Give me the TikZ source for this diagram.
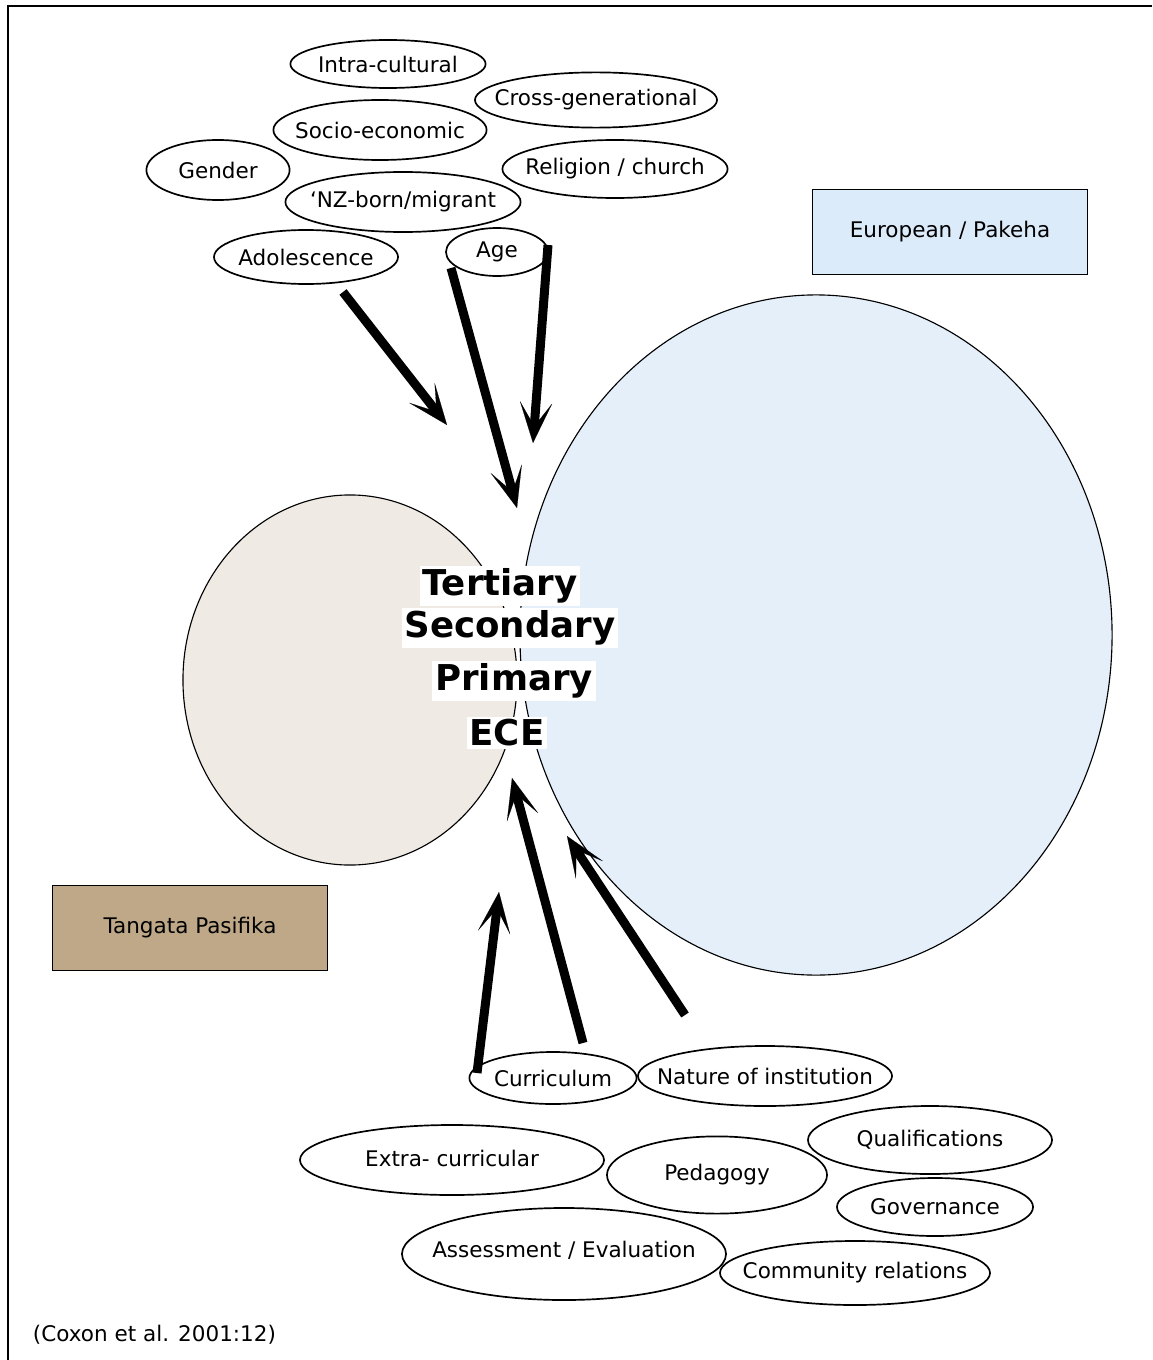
\documentclass[tikz,border=0pt]{standalone}
\usepackage{fontspec}
\setmainfont{DejaVu Sans}
\usetikzlibrary{positioning,arrows.meta,shapes.geometric}

\definecolor{paleblue}{HTML}{E4EFFA}
\definecolor{boxblue}{HTML}{DCEBFA}
\definecolor{paletan}{HTML}{EFEAE3}
\definecolor{boxtan}{HTML}{BEA887}

% label of no width, so the ellipse keeps its set size
\newcommand{\bub}[1]{\makebox[0pt]{#1}}

\tikzset{
    bubble/.style={ellipse, draw, line width=1.2pt, fill=white, inner sep=0pt,
        font=\fontsize{15.3}{18}\selectfont},
    groupbox/.style={rectangle, draw, very thick, inner sep=0pt,
        minimum width=6.875cm, minimum height=2.125cm,
        font=\fontsize{15.3}{18}\selectfont},
    level/.style={fill=white, inner sep=2pt,
        font=\fontsize{25.3}{30}\selectfont\bfseries},
    push/.style={line width=6.4pt,
        -{Stealth[length=29pt, width=23pt, inset=17pt, line width=0.1pt]}}
}

\begin{document}
\begin{tikzpicture}[x=0.025cm, y=-0.025cm]
    \useasboundingbox (0,0) rectangle (1152,1360);
    \draw[line width=2pt] (8,1360) -- (8,6) -- (1152,6);

    % the two cultures
    \node[ellipse, draw, line width=0.8pt, fill=paletan, minimum width=8.35cm, minimum height=9.25cm] (pasifika) at (350,680) {};
    \node[ellipse, draw, line width=0.8pt, fill=paleblue, minimum width=14.8cm, minimum height=17cm] (pakeha) at (816,635) {};
    \node[groupbox, fill=boxblue] (euro) at (950,232) {European / Pakeha};
    \node[groupbox, fill=boxtan] (tangata) at (190,928) {Tangata Pasifika};

    % levels of schooling
    \foreach \name/\txt/\x/\y in {ter/Tertiary/500/586, sec/Secondary/510/628,
                                  pri/Primary/514/681, ece/ECE/507/733} {
        \node[level] (\name) at (\x,\y) {\txt};
    }

    % learner factors
    \node[bubble, minimum width=4.88cm, minimum height=1.2cm] (intra) at (388,64) {\bub{Intra-cultural}};
    \node[bubble, minimum width=6.05cm, minimum height=1.38cm] (cross) at (596,100) {\bub{Cross-generational}};
    \node[bubble, minimum width=5.33cm, minimum height=1.5cm] (socio) at (380,130) {\bub{Socio-economic}};
    \node[bubble, minimum width=3.58cm, minimum height=1.5cm] (gender) at (218,170) {\bub{Gender}};
    \node[bubble, minimum width=5.63cm, minimum height=1.45cm] (relig) at (615,169) {\bub{Religion / church}};
    \node[bubble, minimum width=5.88cm, minimum height=1.5cm] (nzborn) at (403,202) {\bub{`NZ-born/migrant}};
    \node[bubble, minimum width=4.6cm, minimum height=1.35cm] (adol) at (306,257) {\bub{Adolescence}};
    \node[bubble, minimum width=2.55cm, minimum height=1.2cm] (age) at (497,252) {\bub{Age}};

    % school factors
    \node[bubble, minimum width=4.18cm, minimum height=1.3cm] (curr) at (553,1078) {\bub{Curriculum}};
    \node[bubble, minimum width=6.35cm, minimum height=1.5cm] (natinst) at (765,1076) {\bub{Nature of institution}};
    \node[bubble, minimum width=7.6cm, minimum height=1.75cm] (extra) at (452,1160) {\bub{\raisebox{3pt}{Extra- curricular}}};
    \node[bubble, minimum width=6.1cm, minimum height=1.7cm] (qualif) at (930,1140) {\bub{Qualifications}};
    \node[bubble, minimum width=5.5cm, minimum height=1.93cm] (pedag) at (717,1175) {\bub{Pedagogy}};
    \node[bubble, minimum width=4.9cm, minimum height=1.45cm] (govern) at (935,1207) {\bub{Governance}};
    \node[bubble, minimum width=8.1cm, minimum height=2.3cm] (assess) at (564,1254) {\bub{\raisebox{6pt}{Assessment / Evaluation}}};
    \node[bubble, minimum width=6.75cm, minimum height=1.6cm] (commun) at (855,1273) {\bub{Community relations}};

    \node[anchor=west, font=\fontsize{15.3}{18}\selectfont] (source) at (28,1335) {(Coxon et al. 2001:12)};

    % arrows in
    \coordinate (adolout) at (343,292);  \coordinate (adolin) at (447,425);
    \coordinate (ageoutA) at (451,268);  \coordinate (ageinA) at (517,508);
    \coordinate (ageoutB) at (548,245);  \coordinate (ageinB) at (533,443);
    \coordinate (curroutA) at (477,1073); \coordinate (currinA) at (499,892);
    \coordinate (curroutB) at (583,1043); \coordinate (currinB) at (512,778);
    \coordinate (instout) at (685,1015); \coordinate (instin) at (567,836);
    \draw[push] (adolout) -- (adolin);
    \draw[push] (ageoutA) -- (ageinA);
    \draw[push] (ageoutB) -- (ageinB);
    \draw[push] (curroutA) -- (currinA);
    \draw[push] (curroutB) -- (currinB);
    \draw[push] (instout) -- (instin);
\end{tikzpicture}
\end{document}
